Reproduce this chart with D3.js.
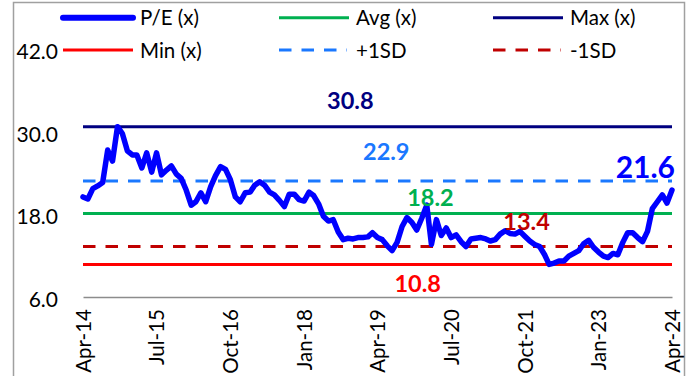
<!DOCTYPE html>
<html><head><meta charset="utf-8">
<script src="https://cdn.jsdelivr.net/npm/d3@7"></script>
<style>
html,body{margin:0;padding:0;background:#fff;}
svg{display:block;font-family:Lato,"Open Sans",sans-serif;}
</style></head>
<body><svg id="chart" width="696" height="376"></svg>
<script>
// ---- data ----
const startMonth = "2014-04";
const peValues = [20.6,20.3,21.8,22.2,22.7,27.4,25.8,30.8,29.8,27.3,26.7,26.7,24.8,27.0,24.2,27.0,23.8,24.5,25.1,23.9,
23.3,21.6,19.4,19.9,21.2,19.9,22.1,23.7,25.0,24.6,23.1,20.6,19.9,21.2,21.3,22.3,22.8,22.3,21.3,20.9,
20.1,19.2,21.0,21.0,20.2,20.0,21.3,20.8,19.6,17.8,17.1,17.3,15.5,14.4,14.6,14.5,14.7,14.7,14.8,15.4,
14.7,14.4,13.5,12.8,14.0,16.3,17.6,16.9,15.8,17.5,19.4,13.7,17.3,15.0,16.1,14.7,15.1,14.1,13.4,14.5,
14.6,14.7,14.5,14.2,14.4,15.2,15.7,15.3,15.2,15.6,14.9,14.2,13.7,13.4,12.2,10.8,11.0,11.3,11.3,12.0,
12.4,12.8,13.8,14.3,13.3,12.6,12.0,11.8,12.4,12.2,14.0,15.4,15.4,14.7,14.1,15.6,18.9,19.9,20.9,19.7,21.6];
const statNames  = ["Avg (x)","Max (x)","Min (x)","+1SD","-1SD"];
const statValues = [18.2, 30.8, 10.8, 22.9, 13.4];
const yTicks = [6, 18, 30, 42];
const xTickLabels = ["Apr-14","Jul-15","Oct-16","Jan-18","Apr-19","Jul-20","Oct-21","Jan-23","Apr-24"];
const legendNames = ["P/E (x)","Avg (x)","Max (x)","Min (x)","+1SD","-1SD"];

// ---- setup ----
const svg = d3.select("#chart");
const parse = d3.timeParse("%Y-%m");
const t0 = parse(startMonth);
const dates = peValues.map((v,i)=>d3.timeMonth.offset(t0,i));
const data = peValues.map((v,i)=>({date:dates[i], v}));

const x = d3.scaleTime().domain([dates[0], dates[dates.length-1]]).range([83, 672]);
const y = d3.scaleLinear().domain([6, 42]).range([297.5, 49.5]);

const style = {
  "P/E (x)": {color:"#0000FF", w:5,  dash:null},
  "Avg (x)": {color:"#00B050", w:3,  dash:null},
  "Max (x)": {color:"#000080", w:3,  dash:null},
  "Min (x)": {color:"#FF0000", w:3,  dash:null},
  "+1SD":    {color:"#1A78FF", w:3,  dash:"12.5,10"},
  "-1SD":    {color:"#C00000", w:3,  dash:"12.5,10"}
};

// border
svg.append("rect").attr("x",13.5).attr("y",2.5).attr("width",671).attr("height",420)
  .attr("fill","none").attr("stroke","#A0A0A0").attr("stroke-width",1.5);

// y tick labels
svg.append("g").selectAll("text").data(yTicks).join("text")
  .attr("x",58).attr("y",d=>y(d)+9.5).attr("text-anchor","end")
  .attr("font-size",21).attr("fill","#000").text(d=>d.toFixed(1));

// x axis
const xTickDates = xTickLabels.map(s=>d3.timeParse("%b-%y")(s));
const xAxis = d3.axisBottom(x).tickValues(xTickDates).tickSize(0).tickFormat(d3.timeFormat("%b-%y"));
const gx = svg.append("g").attr("transform","translate(0,297)").call(xAxis);
gx.select(".domain").attr("stroke","#8C8C8C").attr("stroke-width",1.5);
gx.selectAll("text").attr("transform","rotate(-90)").attr("text-anchor","end")
  .attr("x",-12).attr("y",0).attr("dy","0.36em")
  .attr("font-size",20.5).attr("font-family","Lato").attr("fill","#000");

// stat lines
const statData = statNames.map((n,i)=>({name:n, v:statValues[i]}));
svg.append("g").selectAll("line").data(statData).join("line")
  .attr("x1",x(dates[0])).attr("x2",x(dates[dates.length-1]))
  .attr("y1",d=>y(d.v)).attr("y2",d=>y(d.v))
  .attr("stroke",d=>style[d.name].color).attr("stroke-width",d=>style[d.name].w)
  .attr("stroke-dasharray",d=>style[d.name].dash);

// P/E line
const line = d3.line().x(d=>x(d.date)).y(d=>y(d.v));
svg.append("path").datum(data).attr("d",line).attr("fill","none")
  .attr("stroke",style["P/E (x)"].color).attr("stroke-width",5.5)
  .attr("stroke-linejoin","round").attr("stroke-linecap","round");

// stat labels
const labelPos = {
  "Max (x)": {m:54.5, dy:-17.5},
  "+1SD":    {m:61.8, dy:-21},
  "Avg (x)": {m:70.8, dy:-7.5},
  "-1SD":    {m:90.4, dy:-16.5},
  "Min (x)": {m:68.2, dy:28}
};
svg.append("g").selectAll("text").data(statData).join("text")
  .attr("x",d=>x(d3.timeDay.offset(t0, labelPos[d.name].m*30.44)))
  .attr("y",d=>y(d.v)+labelPos[d.name].dy)
  .attr("text-anchor","middle").attr("font-weight","bold").attr("font-size",23.5)
  .attr("fill",d=>style[d.name].color).text(d=>d.v.toFixed(1));

// last value label
const last = data[data.length-1];
svg.append("text").attr("x",x(last.date)+3).attr("y",y(last.v)-12)
  .attr("text-anchor","end").attr("font-weight","bold").attr("font-size",30)
  .attr("fill",style["P/E (x)"].color).text(last.v.toFixed(1));

// legend
const legX = [63, 279, 493], legY = [17.7, 50];
const lg = svg.append("g").selectAll("g").data(legendNames).join("g")
  .attr("transform",(d,i)=>`translate(${legX[i%3]},${legY[Math.floor(i/3)]})`);
lg.append("line").attr("x1",0).attr("x2",d=>style[d].dash?68:70).attr("y1",0).attr("y2",0)
  .attr("stroke",d=>style[d].color).attr("stroke-width",d=>style[d].w+ (d==="P/E (x)"?1:0))
  .attr("stroke-dasharray",d=>style[d].dash).attr("stroke-linecap",d=>d==="P/E (x)"?"round":"butt");
lg.append("text").attr("x",77).attr("y",7.5).attr("font-size",20.5).attr("fill","#000").text(d=>d);
</script></body></html>
